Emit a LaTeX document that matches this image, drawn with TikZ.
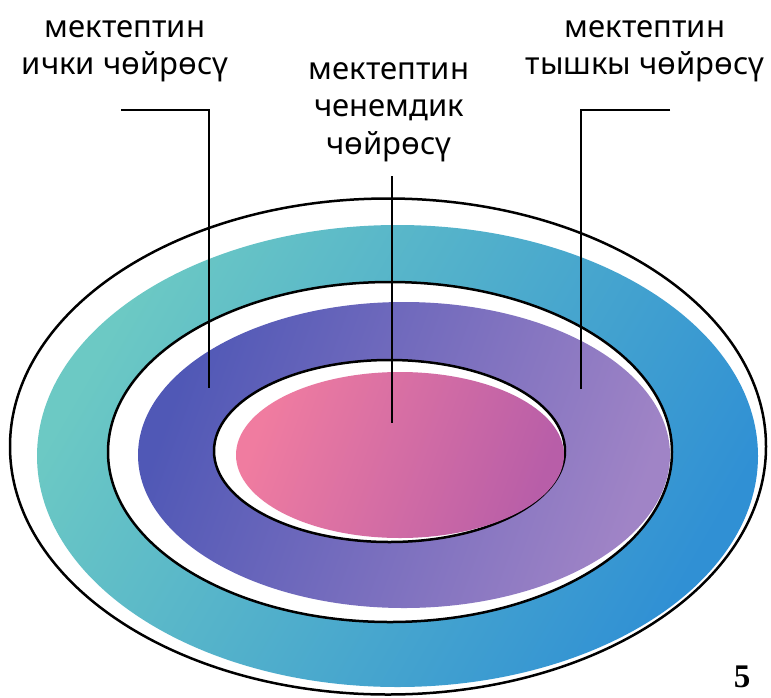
\documentclass[tikz,border=0pt]{standalone}
\usepackage{fontspec}
\setmainfont{Noto Sans}
\newfontfamily\numfont{Liberation Serif}
\definecolor{tealL}{HTML}{6CC9C4}
\definecolor{tealM}{HTML}{4CB8D2}
\definecolor{blueR}{HTML}{3090D4}
\definecolor{purL}{HTML}{5058B6}
\definecolor{purM}{HTML}{7070C0}
\definecolor{purR}{HTML}{A084C6}
\definecolor{pinkL}{HTML}{F07CA0}
\definecolor{pinkM}{HTML}{D870A8}
\definecolor{pinkR}{HTML}{B85EA8}
\tikzset{
  outline/.style={draw=black, line width=2.5pt, fill=white},
  leader/.style={draw=black, line width=2pt},
  lbl/.style={anchor=base, inner sep=0pt, font=\fontsize{31}{36}\selectfont, text=black},
}
\begin{document}
\begin{tikzpicture}[x=1pt,y=-1pt]
\useasboundingbox (0,0) rectangle (771,697);
% outer ring
\draw[outline] (388,446.5) ellipse [x radius=378, y radius=248];
\shade[left color=tealL, middle color=tealM, right color=blueR, shading angle=60]
  (397.5,456) ellipse [x radius=360.5, y radius=231];
% middle ring
\draw[outline] (390,452) ellipse [x radius=282, y radius=170];
\shade[left color=purL, middle color=purM, right color=purR, shading angle=70]
  (404,455) ellipse [x radius=266, y radius=153];
% inner
\draw[outline] (389.5,451) ellipse [x radius=175.5, y radius=91];
\shade[left color=pinkL, middle color=pinkM, right color=pinkR, shading angle=70]
  (400,455) ellipse [x radius=164, y radius=83];
% leader coordinates
\coordinate (l1) at (121,110);
\coordinate (l2) at (209,110);
\coordinate (l3) at (209,388);
\coordinate (m1) at (392,176);
\coordinate (m2) at (392,423);
\coordinate (r1) at (670,110);
\coordinate (r2) at (581,110);
\coordinate (r3) at (581,389);
\draw[leader] (l1) -- (l2) -- (l3);
\draw[leader] (m1) -- (m2);
\draw[leader] (r1) -- (r2) -- (r3);
% labels
\node[lbl] (ta1) at (125,37) {мектептин};
\node[lbl] (ta2) at (125,74) {ички чөйрөсү};
\node[lbl] (tb1) at (389,79) {мектептин};
\node[lbl] (tb2) at (389,116) {ченемдик};
\node[lbl] (tb3) at (389,154) {чөйрөсү};
\node[lbl] (tc1) at (645,37) {мектептин};
\node[lbl] (tc2) at (645,74) {тышкы чөйрөсү};
\node[anchor=base, inner sep=0pt, font=\numfont\bfseries\fontsize{33}{36}\selectfont] (num) at (742,687) {5};
\end{tikzpicture}
\end{document}
